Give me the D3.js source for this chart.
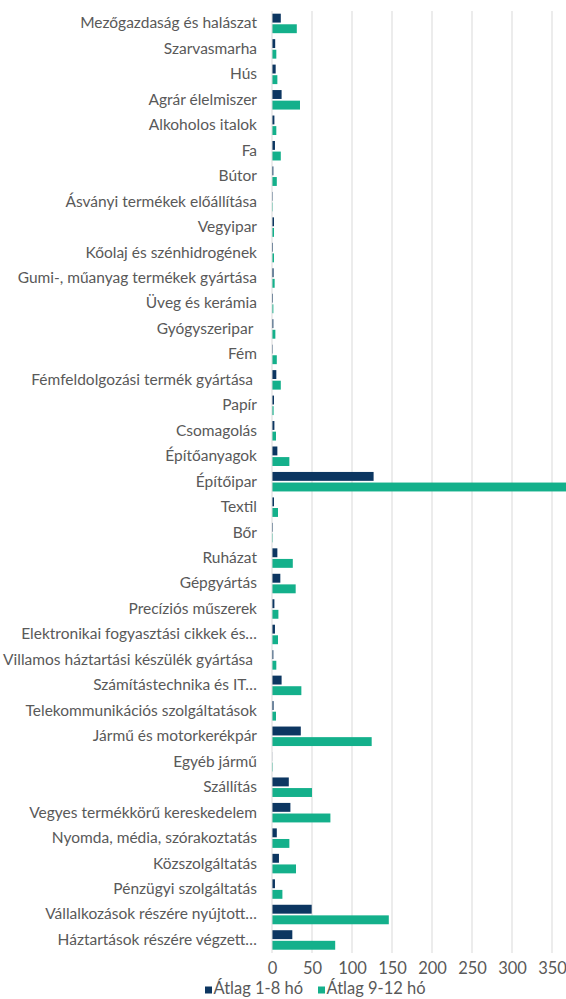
<!DOCTYPE html>
<html><head><meta charset="utf-8">
<script src="https://cdn.jsdelivr.net/npm/d3@7"></script>
<style>html,body{margin:0;padding:0;background:#fff;}svg{display:block;}</style>
</head><body>
<svg id="chart" width="566" height="999"></svg>
<script>
const categories = ["Mezőgazdaság és halászat","Szarvasmarha","Hús","Agrár élelmiszer","Alkoholos italok","Fa","Bútor","Ásványi termékek előállítása","Vegyipar","Kőolaj és szénhidrogének","Gumi-, műanyag termékek gyártása","Üveg és kerámia","Gyógyszeripar\u00a0","Fém","Fémfeldolgozási termék gyártása\u00a0","Papír","Csomagolás","Építőanyagok","Építőipar","Textil","Bőr","Ruházat","Gépgyártás","Precíziós műszerek","Elektronikai fogyasztási cikkek és…","Villamos háztartási készülék gyártása\u00a0","Számítástechnika és IT…","Telekommunikációs szolgáltatások","Jármű és motorkerékpár","Egyéb jármű","Szállítás","Vegyes termékkörű kereskedelem","Nyomda, média, szórakoztatás","Közszolgáltatás","Pénzügyi szolgáltatás","Vállalkozások részére nyújtott…","Háztartások részére végzett…"];
const avg1_8 = [11,4,4.6,12,3,3.7,1.7,0.8,2.5,1.2,2,1.2,1.7,0.8,5.4,2.5,3,6.7,127,2.5,1,6.7,10.4,3,3.7,1.7,12,2,36,0.2,21,23,6,8.7,3.7,49.6,25.4];
const avg9_12 = [31,5.4,6.7,35,5.4,11,6,0.8,2.5,2.5,3.3,1.7,4.2,6,11,2,5,21.7,390,7.5,0.8,26,29.6,8,7.5,5.4,36.7,5,124.6,0.8,50,73,21.7,30,13,146,79];
const seriesNames = ["Átlag 1-8 hó","Átlag 9-12 hó"];
const tickValues = [0,50,100,150,200,250,300,350];
const colors = ["#0C3661","#14B08B"];

const svg = d3.select("#chart");
const W = 566;
const x = d3.scaleLinear().domain([0,400]).range([272,592]);
const y = d3.scaleBand().domain(categories).range([11,953]).paddingInner(0).paddingOuter(0);
const barH = 8.9, gap = 1.1;

svg.append("defs").append("clipPath").attr("id","clip").append("rect").attr("x",0).attr("y",0).attr("width",W).attr("height",999);

const grid = svg.append("g");
grid.selectAll("line").data(tickValues.filter(d=>d>0)).join("line")
  .attr("x1",d=>x(d)).attr("x2",d=>x(d)).attr("y1",11).attr("y2",953)
  .attr("stroke","#D9D9D9").attr("stroke-width",1);

const g = svg.append("g").attr("clip-path","url(#clip)");
[avg1_8, avg9_12].forEach((vals,si)=>{
  g.append("g").selectAll("rect").data(vals).join("rect")
    .attr("x",x(0))
    .attr("y",(d,i)=> y(categories[i]) + y.bandwidth()/2 + (si===0 ? -(barH+gap/2+0.6) : gap/2))
    .attr("width",d=>Math.max(0,x(d)-x(0)))
    .attr("height",barH)
    .attr("fill",colors[si]);
});

// axis line
svg.append("line").attr("x1",x(0)).attr("x2",x(0)).attr("y1",11).attr("y2",953).attr("stroke","#D9D9D9").attr("stroke-width",1);

// category labels
const yAxis = d3.axisLeft(y).tickSize(0).tickPadding(0);
const ya = svg.append("g").attr("transform","translate(268,0)").call(yAxis);
ya.select(".domain").remove();
ya.selectAll("text").attr("fill","#595959").style("font-family","Lato, 'Open Sans', sans-serif").style("font-size","15.5px").attr("dy","0.3em").attr("x",-11);

// x tick labels
const xAxis = d3.axisBottom(x).tickValues(tickValues).tickSize(0).tickPadding(0);
const xa = svg.append("g").attr("transform","translate(0,968)").call(xAxis);
xa.select(".domain").remove();
xa.selectAll("text").attr("fill","#595959").style("font-family","Lato, 'Open Sans', sans-serif").style("font-size","16.5px").attr("dy","0.35em").attr("y",0);

// legend
const legend = svg.append("g").attr("transform","translate(0,988.5)");
const legX = [205,318];
seriesNames.forEach((n,i)=>{
  legend.append("rect").attr("x",legX[i]).attr("y",-2).attr("width",7).attr("height",7).attr("fill",colors[i]);
  legend.append("text").attr("x",legX[i]+8.5).attr("y",0).attr("dy","0.35em").text(n)
    .attr("fill","#595959").style("font-family","Lato, 'Open Sans', sans-serif").style("font-size","16.5px");
});
</script>
</body></html>
